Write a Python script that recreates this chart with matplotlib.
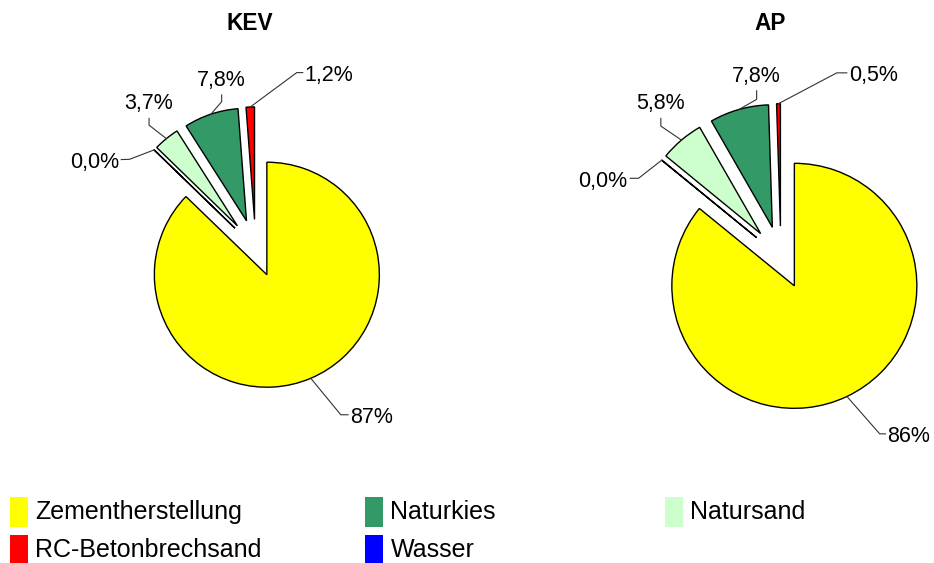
import matplotlib
matplotlib.use("Agg")
import matplotlib.pyplot as plt
from matplotlib.patches import Rectangle
import numpy as np

plt.rcParams["font.family"] = ["Liberation Sans", "DejaVu Sans"]

# ---------------- data ----------------
categories = ["Zementherstellung", "Wasser", "Natursand", "Naturkies", "RC-Betonbrechsand"]
colors = ["#FFFF00", "#0000FF", "#CCFFCC", "#339966", "#FF0000"]
kev_values = [87.0, 0.04, 3.7, 7.8, 1.2]
ap_values = [86.0, 0.04, 5.8, 7.8, 0.5]
titles = ["KEV", "AP"]
legend_order = ["Zementherstellung", "Naturkies", "Natursand",
                "RC-Betonbrechsand", "Wasser"]

# ---------------- layout (pixels, y measured from top) ----------------
W, H = 934, 563
EXPLODE = 0.256
pie_layout = [
    dict(center=(255.6, 248.2), radius=112.5, title_x=250, title_base=29.5,
         # (knee dx, knee dy, end dx, end dy, mode) relative to slice anchor
         leaders=[(30.0, 36.5, 37.3, 36.5, "r"),
                  (-24.5, 9.4, -32.8, 9.7, "l"),
                  (-17.3, -13.5, -17.3, -20.2, "u"),
                  (10.7, -12.5, 10.7, -19.2, "u"),
                  (46.5, -34.4, 52.5, -34.4, "r")]),
    dict(center=(780.9, 257.5), radius=122.5, title_x=770, title_base=29.5,
         leaders=[(32.8, 37.4, 38.5, 37.4, "r"),
                  (-23.2, 18.1, -31.5, 18.1, "l"),
                  (-20.6, -14.0, -20.6, -21.7, "u"),
                  (17.7, -10.1, 17.7, -18.7, "u"),
                  (58.3, -30.8, 68.3, -30.8, "r")]),
]
legend_cols_x = [9.5, 365.0, 665.0]
legend_rows_top = [497.0, 534.5]
LABEL_FS = 15.5
TITLE_FS = 16.3
LEGEND_FS = 18


def fmt(v):
    s = f"{v:.0f}%" if v >= 10 else f"{v:.1f}%"
    return s.replace(".", ",")


fig = plt.figure(figsize=(W / 100, H / 100), dpi=100)
ax = fig.add_axes([0, 0, 1, 1])

for values, title, lay in zip([kev_values, ap_values], titles, pie_layout):
    cx, cy = lay["center"]
    r = lay["radius"]
    wedges, _ = ax.pie(values, colors=colors, startangle=90, counterclock=False,
                       radius=r, center=(cx, H - cy),
                       explode=[EXPLODE * r] * len(values),
                       wedgeprops=dict(edgecolor="black", linewidth=1.0))
    for w, v, (kdx, kdy, edx, edy, mode) in zip(wedges, values, lay["leaders"]):
        th = np.deg2rad((w.theta1 + w.theta2) / 2)
        axp = w.center[0] + w.r * np.cos(th)
        ayp = w.center[1] + w.r * np.sin(th)
        kx, ky = axp + kdx, ayp - kdy
        ex, ey = axp + edx, ayp - edy
        ax.plot([axp, kx, ex], [ayp, ky, ey], color="#333333", lw=0.8,
                solid_joinstyle="miter")
        if mode == "r":
            ax.text(ex + 2, ey - 8.5, fmt(v), ha="left", va="baseline",
                    fontsize=LABEL_FS)
        elif mode == "l":
            ax.text(ex - 2.5, ey - 8.5, fmt(v), ha="right", va="baseline",
                    fontsize=LABEL_FS)
        else:
            ax.text(ex, ey + 9, fmt(v), ha="center", va="baseline",
                    fontsize=LABEL_FS)
    ax.text(lay["title_x"], H - lay["title_base"], title, ha="center",
            va="baseline", fontsize=TITLE_FS, fontweight="bold")

# legend (3 columns, row-major)
for i, name in enumerate(legend_order):
    row, col = divmod(i, 3)
    x0 = legend_cols_x[col]
    top = legend_rows_top[row]
    c = colors[categories.index(name)]
    ax.add_patch(Rectangle((x0, H - top - 30), 18, 30, facecolor=c,
                           edgecolor="none"))
    ax.text(x0 + 25.5, H - top - 22.3, name, ha="left", va="baseline",
            fontsize=LEGEND_FS)

ax.set_xlim(0, W)
ax.set_ylim(0, H)
ax.set_aspect("auto")
ax.axis("off")
fig.savefig("out.png", dpi=100)
